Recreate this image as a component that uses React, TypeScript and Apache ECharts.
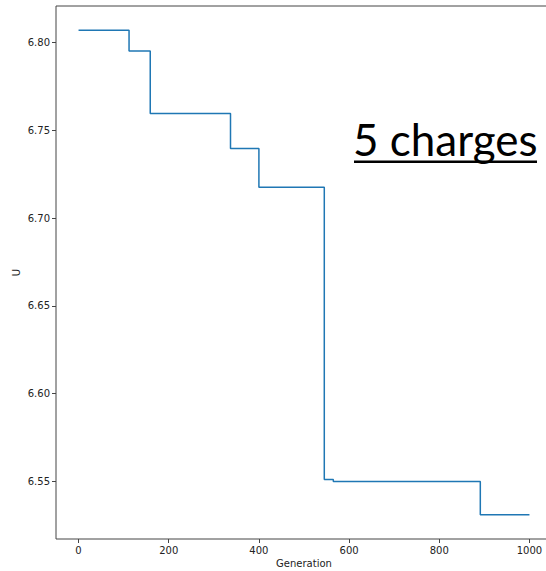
import React, { useEffect, useRef } from "react";
import * as echarts from "echarts";

const generations = [0, 112, 159, 337, 400, 545, 565, 891, 1000];
const uValues = [6.807, 6.7952, 6.7595, 6.7397, 6.7175, 6.5511, 6.5499, 6.531, 6.531];
const xTicks = [0, 200, 400, 600, 800, 1000];
const yTicks = [6.55, 6.6, 6.65, 6.7, 6.75, 6.8];
const annotation = "5 charges";

export default function App() {
  const ref = useRef<HTMLDivElement>(null);
  useEffect(() => {
    if (!ref.current) return;
    const chart = echarts.init(ref.current, null, { renderer: "svg" });
    const axisColor = "#444";
    const labelColor = "#222";
    chart.setOption({
      animation: false,
      backgroundColor: "#fff",
      grid: {
        left: 56,
        top: 6,
        width: 496,
        height: 533,
        show: true,
        borderColor: axisColor,
        borderWidth: 1,
        backgroundColor: "transparent",
        containLabel: false,
        outerBoundsMode: "none",
      },
      xAxis: {
        type: "value",
        min: -50,
        max: 1050,
        name: "Generation",
        nameLocation: "middle",
        nameGap: 19,
        nameMoveOverlap: false,
        nameTextStyle: { fontFamily: "DejaVu Sans", fontSize: 10, color: labelColor, verticalAlign: "top" },
        axisLine: { show: false, onZero: false },
        splitLine: { show: false },
        axisTick: { show: true, length: 4, lineStyle: { color: axisColor }, customValues: xTicks },
        axisLabel: {
          fontFamily: "DejaVu Sans",
          fontSize: 10,
          color: labelColor,
          margin: 6,
          customValues: xTicks,
          formatter: (v: number) => String(v),
        },
      },
      yAxis: {
        type: "value",
        min: 6.5172,
        max: 6.8208,
        name: "U",
        nameLocation: "middle",
        nameGap: 35,
        nameMoveOverlap: false,
        nameTextStyle: { fontFamily: "DejaVu Sans", fontSize: 10, color: labelColor },
        axisLine: { show: false, onZero: false },
        splitLine: { show: false },
        axisTick: { show: true, length: 4, lineStyle: { color: axisColor }, customValues: yTicks },
        axisLabel: {
          fontFamily: "DejaVu Sans",
          fontSize: 10,
          color: labelColor,
          margin: 6,
          customValues: yTicks,
          formatter: (v: number) => v.toFixed(2),
        },
      },
      graphic: [
        {
          type: "text",
          left: 353,
          top: 117,
          style: {
            text: annotation,
            fontFamily: "Lato",
            fontSize: 44,
            fill: "#000",
          },
        },
        {
          type: "rect",
          shape: { x: 354, y: 160.5, width: 183, height: 2.5 },
          style: { fill: "#000" },
        },
      ],
      series: [
        {
          type: "line",
          step: "end",
          showSymbol: false,
          symbol: "none",
          data: generations.map((g, i) => [g, uValues[i]]),
          lineStyle: { color: "#1f77b4", width: 1.5 },
        },
      ],
    });
    return () => chart.dispose();
  }, []);
  return (
    <div
      style={{
        position: "fixed",
        left: 0,
        top: 0,
        width: 546,
        height: 571,
        overflow: "hidden",
        background: "#fff",
      }}
    >
      <div ref={ref} style={{ width: 560, height: 571 }} />
    </div>
  );
}
